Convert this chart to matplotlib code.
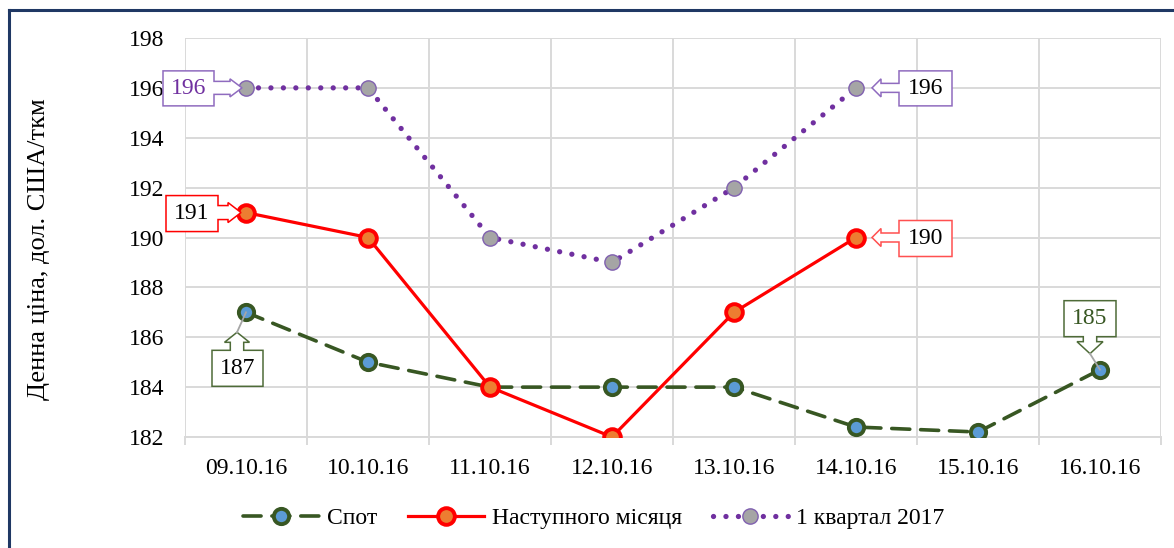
import matplotlib
matplotlib.use("Agg")
import matplotlib.pyplot as plt
import matplotlib.transforms as mtransforms
from matplotlib.patches import Polygon
from matplotlib.lines import Line2D
import numpy as np

plt.rcParams['font.family'] = ['Liberation Serif', 'DejaVu Serif']

# ---- data ----
dates = ["09.10.16", "10.10.16", "11.10.16", "12.10.16", "13.10.16", "14.10.16", "15.10.16", "16.10.16"]
spot = [187, 185, 184, 184, 184, 182.4, 182.2, 184.7]
next_month = [191, 190, 184, 182, 187, 190, np.nan, np.nan]
q1_2017 = [196, 196, 190, 189, 192, 196, np.nan, np.nan]
series_names = ["Спот", "Наступного місяця", "1 квартал 2017"]
y_label = "Денна ціна, дол. США/ткм"
y_ticks = [182, 184, 186, 188, 190, 192, 194, 196, 198]

W, H = 1174, 548
fig = plt.figure(figsize=(W / 100, H / 100), dpi=100)
ax = fig.add_axes([185 / W, 1 - 437 / H, 976 / W, 399 / H])

x = np.arange(len(dates))

GREEN = "#385723"
BLUE = "#5B9BD5"
RED = "#FF0000"
ORANGE = "#ED7D31"
PURPLE = "#7030A0"
GRAY = "#A5A5A5"

ax.plot(x, spot, color=GREEN, lw=2.6, linestyle=(0, (5, 3)), dash_capstyle='round',
        marker='o', ms=11, mfc=BLUE, mec=GREEN, mew=2.8, zorder=3, label=series_names[0])
ax.plot(x, next_month, color=RED, lw=2.3, marker='o', ms=12, mfc=ORANGE, mec=RED,
        mew=2.8, zorder=4, label=series_names[1])
ax.plot(x, q1_2017, color=PURPLE, lw=3.8, linestyle=(0, (0.01, 2.35)), dash_capstyle='round',
        marker='o', ms=11, mfc=GRAY, mec="#8060B0", mew=1.0, zorder=3, label=series_names[2])

ax.set_xlim(-0.5, len(dates) - 0.5)
ax.set_ylim(182, 198)
ax.set_yticks(y_ticks)
ax.set_xticks(x)
ax.set_xticklabels(dates)
ax.set_xticks(np.arange(-0.5, len(dates), 1.0), minor=True)

ax.grid(axis='y', color="#D9D9D9", lw=1.4, zorder=0)
ax.grid(axis='x', which='minor', color="#D9D9D9", lw=1.4, zorder=0)
ax.tick_params(axis='x', which='major', length=0, pad=15, labelsize=17)
ax.tick_params(axis='x', which='minor', length=5.5, color="#D9D9D9", width=1.4)
ax.tick_params(axis='y', length=0, pad=15, labelsize=17)
for s in ['top', 'right', 'left']:
    ax.spines[s].set_visible(False)
ax.spines['bottom'].set_color("#D9D9D9")
ax.spines['bottom'].set_linewidth(1.4)
ax.set_axisbelow(True)

ax.set_ylabel(y_label, fontsize=19, va='center')
ax.yaxis.set_label_coords(-0.150, 0.47)


def px_trans(xd, yd):
    return mtransforms.Affine2D().scale(fig.dpi / 100) + mtransforms.ScaledTranslation(xd, yd, ax.transData)


def callout_h(xd, yd, box, tip, L, s, h, edge, txt, tcolor):
    x0, x1, y0, y1 = box
    if tip < 0:  # box on left, arrow points right
        hb = tip - L
        verts = [(x0, y0), (x1, y0), (x1, -s), (hb, -s), (hb, -h), (tip, 0), (hb, h), (hb, s),
                 (x1, s), (x1, y1), (x0, y1)]
    else:
        hb = tip + L
        verts = [(x1, y0), (x1, y1), (x0, y1), (x0, s), (hb, s), (hb, h), (tip, 0), (hb, -h),
                 (hb, -s), (x0, -s), (x0, y0)]
    tr = px_trans(xd, yd)
    ax.add_patch(Polygon(verts, closed=True, transform=tr, facecolor='white', edgecolor=edge,
                         lw=1.1, zorder=5, clip_on=False))
    ax.text((x0 + x1) / 2, (y0 + y1) / 2, txt, transform=tr, ha='center', va='center',
            fontsize=17, color=tcolor, zorder=6)


def callout_v(xd, yd, box, tipx, tipy, L, s, h, edge, txt, tcolor):
    x0, x1, y0, y1 = box
    if tipy < 0:  # box below, arrow points up
        hb = tipy - L
        verts = [(x0, y0), (x1, y0), (x1, y1), (tipx + s, y1), (tipx + s, hb), (tipx + h, hb),
                 (tipx, tipy), (tipx - h, hb), (tipx - s, hb), (tipx - s, y1), (x0, y1)]
    else:  # box above, arrow points down
        hb = tipy + L
        verts = [(x0, y1), (x1, y1), (x1, y0), (tipx + s, y0), (tipx + s, hb), (tipx + h, hb),
                 (tipx, tipy), (tipx - h, hb), (tipx - s, hb), (tipx - s, y0), (x0, y0)]
    tr = px_trans(xd, yd)
    ax.add_patch(Polygon(verts, closed=True, transform=tr, facecolor='white', edgecolor=edge,
                         lw=1.1, zorder=5, clip_on=False))
    ax.add_line(Line2D([tipx, 0], [tipy, 0], transform=tr, color="#A6A6A6", lw=1.3, zorder=6))
    ax.text((x0 + x1) / 2, (y0 + y1) / 2, txt, transform=tr, ha='center', va='center',
            fontsize=17, color=tcolor, zorder=6)


# Q1 2017 labels
callout_h(x[0], q1_2017[0], (-83, -32, -18, 17), -4, 12, 6.5, 9, "#8F6BBF", f"{q1_2017[0]:.0f}", PURPLE)
callout_h(x[5], q1_2017[5], (43, 96, -18, 17), 16, 9, 4.5, 9, "#8F6BBF", f"{q1_2017[5]:.0f}", "black")
# Next month labels
callout_h(x[0], next_month[0], (-80, -28, -19, 17), -5, 13, 7, 10, RED, f"{next_month[0]:.0f}", "black")
callout_h(x[5], next_month[5], (43, 96, -19, 17), 16, 9, 4.5, 9, "#FF5050", f"{next_month[5]:.0f}", "black")
# Spot labels
callout_v(x[0], spot[0], (-34, 17, -74, -38), -9, -20, 10, 6.7, 12.5, "#4E6B38", f"{spot[0]:.0f}", "black")
callout_v(x[7], spot[7], (-36, 16, 33, 69), -10, 16, 12, 6.7, 13, "#4E6B38", f"{spot[7]:.0f}", GREEN)

leg = ax.legend(loc='center', bbox_to_anchor=(0.5 + 7 / W, 1 - 518 / H), bbox_transform=fig.transFigure,
                ncol=3, frameon=False, fontsize=17, handlelength=3.2, columnspacing=1.3,
                handletextpad=0.35)

# outer frame
fig.add_artist(Line2D([9 / W, 9 / W], [-0.05, 1 - 10 / H], transform=fig.transFigure,
                      color="#1F3864", lw=2.2))
fig.add_artist(Line2D([9 / W, 1.05], [1 - 10 / H, 1 - 10 / H], transform=fig.transFigure,
                      color="#1F3864", lw=2.2))

fig.savefig("out.png", dpi=100)
